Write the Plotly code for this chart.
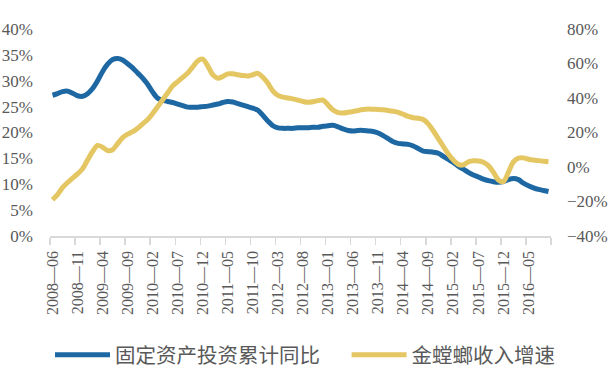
import plotly.graph_objects as go

# ---- data ----
start_year, start_month, n_months = 2008, 6, 100
categories = []
y, m = start_year, start_month
for _ in range(n_months):
    categories.append(f"{y}-{m:02d}")
    m += 1
    if m > 12:
        m = 1
        y += 1

fai_yoy = [
    27.2, 27.5, 27.9, 28.0, 27.6, 27.1, 27.0, 27.5, 28.5, 30.0,
    31.8, 33.2, 34.1, 34.3, 34.0, 33.3, 32.5, 31.5, 30.5, 29.3,
    27.8, 26.6, 26.2, 26.0, 25.8, 25.5, 25.2, 24.9, 24.9, 24.9,
    25.0, 25.1, 25.3, 25.5, 25.8, 26.0, 25.9, 25.6, 25.3, 25.0,
    24.7, 24.3, 23.3, 22.2, 21.3, 20.9, 20.8, 20.8, 20.8, 20.9,
    20.9, 20.9, 21.0, 21.0, 21.2, 21.3, 21.4, 21.1, 20.7, 20.4,
    20.3, 20.4, 20.4, 20.3, 20.2, 19.9, 19.4, 18.8, 18.2, 17.9,
    17.8, 17.7, 17.4, 16.9, 16.4, 16.3, 16.2, 16.0, 15.4, 14.8,
    14.2, 13.5, 12.9, 12.3, 11.8, 11.4, 11.0, 10.7, 10.5, 10.4,
    10.5, 10.9, 11.1, 10.9, 10.2, 9.7, 9.3, 9.0, 8.8, 8.6,
]

mantis_growth = [
    -19.0, -16.0, -12.0, -9.0, -6.5, -4.0, -1.0, 4.0, 9.0, 12.5,
    11.5, 9.5, 10.0, 13.5, 17.0, 19.0, 20.5, 22.5, 25.0, 27.5,
    31.0, 35.0, 39.0, 43.0, 47.0, 49.5, 52.0, 54.5, 58.0, 61.5,
    62.5, 58.5, 53.5, 51.5, 52.5, 54.0, 54.0, 53.5, 53.0, 52.8,
    53.5, 54.3, 52.0, 48.5, 44.0, 41.5, 40.5, 40.0, 39.5, 38.8,
    38.0, 37.5, 37.8, 38.5, 38.8, 36.0, 33.0, 31.5, 31.3, 31.7,
    32.2, 32.8, 33.3, 33.6, 33.5, 33.4, 33.2, 32.8, 32.3, 31.7,
    30.6, 29.3, 28.6, 28.3, 27.5, 25.0, 21.0, 16.5, 12.0, 7.5,
    4.0, 1.5, 1.2, 3.0, 3.6, 3.5, 2.8, 0.8, -3.0, -7.5,
    -8.5, -3.0, 3.0, 5.2, 5.3, 4.5, 4.0, 3.7, 3.4, 3.1,
]

series_names = ["固定资产投资累计同比", "金螳螂收入增速"]
left_ticks = [0, 5, 10, 15, 20, 25, 30, 35, 40]
right_ticks = [-40, -20, 0, 20, 40, 60, 80]
label_step = 5

# ---- figure ----
idx = list(range(len(categories)))
BLUE = "#1d67a3"
YELLOW = "#e4c663"
GRAY = "#595959"
NUM_FONT = "Liberation Serif"
CJK_FONT = "Noto Sans CJK SC"

fig = go.Figure()
fig.add_trace(go.Scatter(
    x=idx, y=fai_yoy, name=series_names[0], mode="lines",
    line=dict(color=BLUE, width=5, shape="spline", smoothing=0.8),
    yaxis="y", legend="legend",
))
fig.add_trace(go.Scatter(
    x=idx, y=mantis_growth, name=series_names[1], mode="lines",
    line=dict(color=YELLOW, width=5, shape="spline", smoothing=0.8),
    yaxis="y2", legend="legend2",
))

label_vals = idx[::label_step]
label_text = [categories[i].replace("-", "—") for i in label_vals]
boundary_vals = [i - 0.5 for i in range(0, len(categories) + 1, label_step)]

legend_common = dict(
    orientation="h", xanchor="left", y=-0.575, yanchor="middle",
    font=dict(family=CJK_FONT, size=20.5, color=GRAY),
    itemwidth=55, bgcolor="rgba(0,0,0,0)",
)

fig.update_layout(
    width=612, height=376,
    margin=dict(l=50, r=61, t=29, b=140, autoexpand=False),
    paper_bgcolor="white", plot_bgcolor="white",
    showlegend=True,
    legend=dict(x=0.0, **legend_common),
    legend2=dict(x=0.592, **legend_common),
    xaxis=dict(
        range=[-0.5, len(categories) - 0.5],
        tickmode="array", tickvals=label_vals, ticktext=label_text,
        tickangle=-90,
        ticks="outside", ticklen=7, tickcolor="rgba(0,0,0,0)",
        tickfont=dict(family=NUM_FONT, size=16, color=GRAY),
        showline=True, linecolor="#d9d9d9", linewidth=1.5,
        showgrid=False, zeroline=False, automargin=False,
        minor=dict(tickmode="array", tickvals=boundary_vals, ticks="outside",
                   ticklen=7, tickwidth=1.5, tickcolor="#d9d9d9", showgrid=False),
    ),
    yaxis=dict(
        range=[0, 40], tickmode="array", tickvals=left_ticks,
        ticktext=[f"{v}%" for v in left_ticks],
        tickfont=dict(family=NUM_FONT, size=17, color=GRAY),
        showgrid=False, zeroline=False, showline=False,
        ticks="", ticklabelstandoff=16, automargin=False,
    ),
    yaxis2=dict(
        range=[-40, 80], overlaying="y", side="right",
        tickmode="array", tickvals=right_ticks,
        ticktext=[f"{v}%".replace("-", "−") for v in right_ticks],
        tickfont=dict(family=NUM_FONT, size=17, color=GRAY),
        showgrid=False, zeroline=False, showline=False,
        ticks="", ticklabelstandoff=15, automargin=False,
    ),
)

fig.write_html(
    "out.html",
    config={"displayModeBar": False, "staticPlot": True},
    post_script="document.body.style.margin='0';",
)
